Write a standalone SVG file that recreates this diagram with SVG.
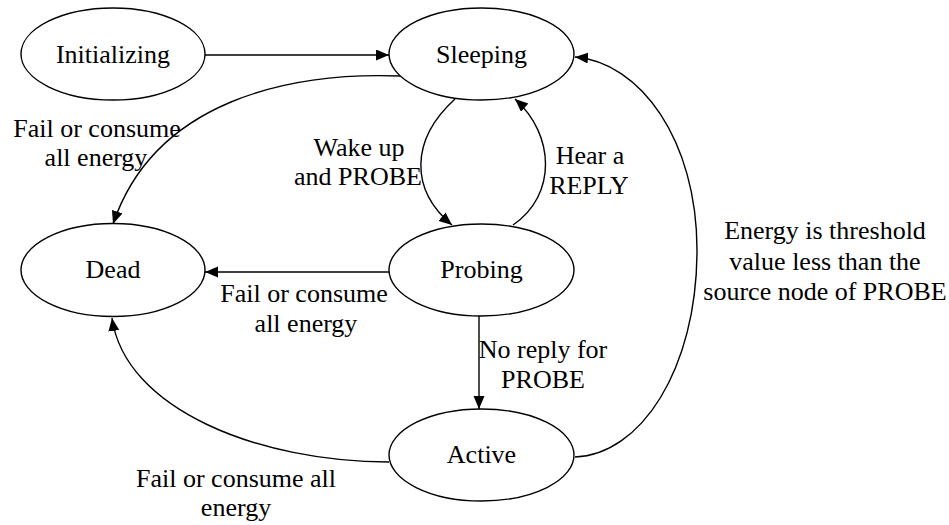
<svg xmlns="http://www.w3.org/2000/svg" width="949" height="525" viewBox="0 0 949 525">
<style>
text{font-family:'Times New Roman','Liberation Serif','DejaVu Serif',serif;font-size:26px;fill:#000;text-anchor:middle}
ellipse{fill:#fff;stroke:#000;stroke-width:1.4}
.c{fill:none;stroke:#000;stroke-width:1.4;marker-end:url(#ah)}
</style>
<defs>
<marker id="ah" markerUnits="userSpaceOnUse" markerWidth="14" markerHeight="12" refX="13" refY="5.5" orient="auto">
<path d="M0,0 L13,5.5 L0,11 z" fill="#000"/>
</marker>
</defs>
<rect width="949" height="525" fill="#fff"/>
<g id="connectors">
<path class="c" d="M205,55 L389,55"/>
<path class="c" d="M400,76 C290,72 155,100 113,224"/>
<path class="c" d="M455,99 C410,140 410,190 452,225"/>
<path class="c" d="M513,225 C557,195 555,135 515,99"/>
<path class="c" d="M389,272 L205,272"/>
<path class="c" d="M479,316 L479,409"/>
<path class="c" d="M389,462 C260,462 125,410 112,318"/>
<path class="c" d="M575,457 C640,455 697,370 697,250 C697,140 640,62 575,57"/>
</g>
<g id="node-initializing"><ellipse cx="113" cy="54" rx="92" ry="46"/><text x="113" y="63" style="font-family:'Liberation Serif',serif">Initializing</text></g>
<g id="node-sleeping"><ellipse cx="481.5" cy="54" rx="92.5" ry="46"/><text x="481.5" y="63">Sleeping</text></g>
<g id="node-dead"><ellipse cx="113" cy="270" rx="92" ry="46.5"/><text x="113" y="278">Dead</text></g>
<g id="node-probing"><ellipse cx="481.5" cy="270" rx="92.5" ry="46"/><text x="481.5" y="278">Probing</text></g>
<g id="node-active"><ellipse cx="481.5" cy="455" rx="92.5" ry="46"/><text x="481.5" y="463">Active</text></g>
<g id="labels">
<text x="97" y="137">Fail or consume</text>
<text x="96" y="166">all energy</text>
<text x="359" y="156">Wake up</text>
<text x="358" y="185">and PROBE</text>
<text x="590" y="164">Hear a</text>
<text x="589" y="194">REPLY</text>
<text x="304" y="302">Fail or consume</text>
<text x="306" y="332">all energy</text>
<text x="543" y="358">No reply for</text>
<text x="543" y="388">PROBE</text>
<text x="236" y="487">Fail or consume all</text>
<text x="236" y="516">energy</text>
<text x="825" y="239">Energy is threshold</text>
<text x="825" y="270">value less than the</text>
<text x="825" y="300">source node of PROBE</text>
</g>
</svg>
